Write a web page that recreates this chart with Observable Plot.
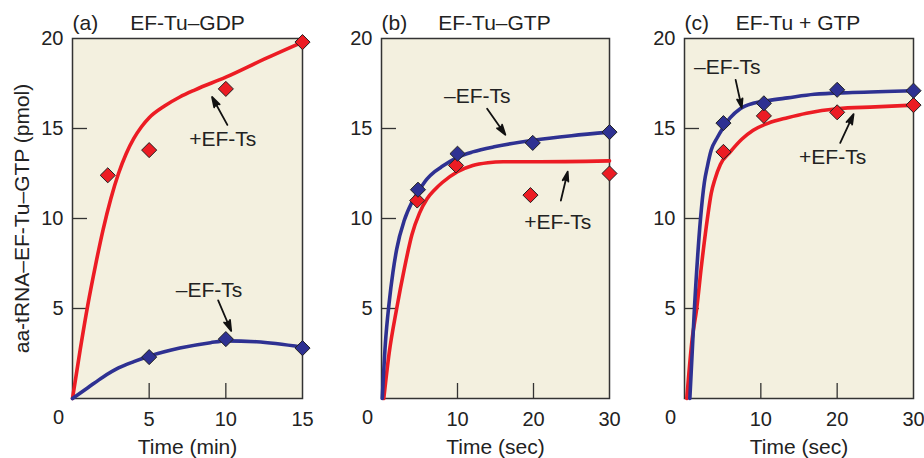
<!DOCTYPE html>
<html>
<head>
<meta charset="utf-8">
<script src="https://cdn.jsdelivr.net/npm/d3@7"></script>
<script src="https://cdn.jsdelivr.net/npm/@observablehq/plot@0.6"></script>
<style>
  html, body { margin: 0; padding: 0; background: #ffffff; }
  #root { position: relative; width: 924px; height: 458px; overflow: hidden; }
  #root svg { position: absolute; top: 0; overflow: visible; }
</style>
</head>
<body>
<div id="root"></div>
<script>
// ---------- data ----------
const yLabel = "aa-tRNA\u2013EF-Tu\u2013GTP (pmol)";
const yTickLabels = [5, 10, 15, 20];
const yTickMarks = [5, 10, 15];

// Panel (a): EF-Tu–GDP, time in min
const titleA = ["(a)", "EF-Tu\u2013GDP"];
const xLabelA = "Time (min)";
const xTicksA = [5, 10, 15];
const curveA_plus = [[0,0],[0.5,2.7],[1,5.2],[1.5,7.4],[2,9.4],[2.5,11.1],[3,12.5],[3.5,13.6],[4,14.45],[4.5,15.1],[5,15.6],[6,16.25],[7,16.75],[8,17.15],[10,17.85],[12.5,18.85],[15,19.8]];
const curveA_minus = [[0,0],[1,0.6],[2,1.2],[3,1.7],[4,2.05],[5,2.35],[7,2.8],[9,3.1],[10,3.2],[12,3.15],[15,2.85]];
const pointsA_plus = [[2.3,12.4],[5,13.8],[10,17.2],[15,19.8]];
const pointsA_minus = [[5,2.3],[10,3.3],[15,2.8]];
const notesA = [[9.8,14.4,"+EF-Ts"],[8.9,6.0,"\u2013EF-Ts"]];
const arrowsA = [[10.1,15.2,9.1,16.75],[9.5,5.45,10.35,3.75]];

// Panel (b): EF-Tu–GTP, time in sec
const titleB = ["(b)", "EF-Tu\u2013GTP"];
const xLabelB = "Time (sec)";
const xTicksB = [10, 20, 30];
const curveB_minus = [[0.1,0],[0.5,3],[1,5.3],[1.5,7],[2,8.3],[3,9.9],[4,10.9],[5,11.6],[6,12.2],[7,12.6],[8,12.9],[10,13.4],[12,13.7],[15,14.0],[20,14.35],[25,14.6],[30,14.8]];
const curveB_plus = [[0.3,0],[1,2.5],[2,5],[3,7.2],[4,9.1],[5,10.3],[6,11.1],[7,11.6],[8,12.0],[10,12.6],[12,12.95],[14,13.1],[16,13.15],[20,13.15],[30,13.2]];
const pointsB_minus = [[4.8,11.6],[10,13.6],[19.9,14.2],[30,14.8]];
const pointsB_plus = [[4.7,11.0],[9.8,12.95],[19.6,11.3],[30,12.5]];
const notesB = [[12.6,16.8,"\u2013EF-Ts"],[23.2,9.8,"+EF-Ts"]];
const arrowsB = [[13.9,16.1,16.3,14.65],[23.6,11.0,24.5,12.6]];

// Panel (c): EF-Tu + GTP, time in sec
const titleC = ["(c)", "EF-Tu + GTP"];
const xLabelC = "Time (sec)";
const xTicksC = [10, 20, 30];
const curveC_minus = [[0.7,0],[1.3,5],[2.1,10],[2.6,12],[3,12.9],[3.5,13.8],[4.3,14.5],[5,15.0],[6,15.6],[7.3,16.1],[9,16.4],[11,16.55],[13.5,16.7],[17,16.9],[22,17.0],[30,17.1]];
const curveC_plus = [[0.3,0],[1,3.3],[1.6,5],[2.2,7.3],[3,10],[3.5,11.4],[4,12.2],[4.7,13.0],[6,13.7],[7.5,14.4],[9,14.9],[11,15.3],[13.5,15.6],[16,15.85],[20,16.1],[25,16.2],[30,16.3]];
const pointsC_minus = [[5.1,15.3],[10.4,16.4],[20,17.15],[30,17.1]];
const pointsC_plus = [[5.1,13.7],[10.4,15.7],[20,15.9],[30,16.3]];
const notesC = [[5.6,18.4,"\u2013EF-Ts"],[19.4,13.4,"+EF-Ts"]];
const arrowsC = [[6.7,17.7,7.5,16.15],[20.4,14.2,22.15,15.8]];

// ---------- style ----------
const FONT = "'Liberation Sans', Arial, Helvetica, sans-serif";
const PLUS = "#ec1c24";
const MINUS = "#2e3192";
const BG = "#f3f0df";
const INK = "#222222";
const H = 458, MT = 38, MB = 60;

function panel({left, width, mL, mR, xDomain, xTicks, title, xLabel, curves, points, notes, arrows, withYLabel}) {
  const fw = width - mL - mR, fh = H - MT - MB;
  const marks = [
    Plot.frame({fill: BG, stroke: "#333", strokeWidth: 1.5}),
    Plot.tickY(yTickMarks, {y: d => d, stroke: "#333", strokeWidth: 1.3, insetRight: fw - 15}),
    Plot.tickX(xTicks.filter(d => d < xDomain[1]), {x: d => d, stroke: "#333", strokeWidth: 1.3, insetTop: fh - 15}),
  ];
  for (const c of curves) {
    marks.push(Plot.line(c.data, {x: d => d[0], y: d => d[1], stroke: c.color, strokeWidth: 3.6, curve: "monotone-x"}));
  }
  for (const p of points) {
    marks.push(Plot.dot(p.data, {x: d => d[0], y: d => d[1], symbol: "diamond2", r: 6.8, fill: p.color, stroke: "#222", strokeWidth: 1}));
  }
  marks.push(
    Plot.arrow(arrows, {x1: d => d[0], y1: d => d[1], x2: d => d[2], y2: d => d[3], stroke: "#111", fill: "#111", strokeWidth: 1.8, headLength: 10, headAngle: 34}),
    Plot.text(notes, {x: d => d[0], y: d => d[1], text: d => d[2], fontSize: 21, fill: INK, textAnchor: "middle", lineAnchor: "middle"}),
    Plot.text([title[0]], {frameAnchor: "top-left", dx: 0, dy: -15, fontSize: 21, fill: INK, textAnchor: "start", lineAnchor: "middle"}),
    Plot.text([title[1]], {frameAnchor: "top", dx: title[2] || 0, dy: -15, fontSize: 21, fill: INK, textAnchor: "middle", lineAnchor: "middle"}),
    Plot.text([xLabel], {frameAnchor: "bottom", dy: 49, fontSize: 21, fill: INK, textAnchor: "middle", lineAnchor: "middle"}),
    Plot.text(["0"], {frameAnchor: "bottom-left", dx: -14, dy: 19, fontSize: 20, fill: INK, textAnchor: "middle", lineAnchor: "middle"})
  );
  if (withYLabel) {
    marks.push(Plot.text([yLabel], {frameAnchor: "left", dx: -50, rotate: -90, fontSize: 21, fill: INK, textAnchor: "middle", lineAnchor: "middle"}));
  }
  const chart = Plot.plot({
    width, height: H,
    marginLeft: mL, marginRight: mR, marginTop: MT, marginBottom: MB,
    style: {fontFamily: FONT, fontSize: "20px", color: INK, background: "transparent", overflow: "visible"},
    x: {domain: xDomain, ticks: xTicks, tickSize: 0, tickPadding: 13, label: null},
    y: {domain: [0, 20], ticks: yTickLabels, tickSize: 0, tickPadding: 9, label: null},
    marks
  });
  chart.style.left = left + "px";
  document.getElementById("root").appendChild(chart);
}

panel({
  left: 0, width: 320, mL: 72, mR: 18, xDomain: [0, 15], xTicks: xTicksA,
  title: [titleA[0], titleA[1], 0], xLabel: xLabelA,
  curves: [{data: curveA_plus, color: PLUS}, {data: curveA_minus, color: MINUS}],
  points: [{data: pointsA_plus, color: PLUS}, {data: pointsA_minus, color: MINUS}],
  notes: notesA, arrows: arrowsA, withYLabel: true
});
panel({
  left: 320, width: 300, mL: 61, mR: 11, xDomain: [0, 30], xTicks: xTicksB,
  title: [titleB[0], titleB[1], -1], xLabel: xLabelB,
  curves: [{data: curveB_plus, color: PLUS}, {data: curveB_minus, color: MINUS}],
  points: [{data: pointsB_plus, color: PLUS}, {data: pointsB_minus, color: MINUS}],
  notes: notesB, arrows: arrowsB
});
panel({
  left: 620, width: 304, mL: 64, mR: 11, xDomain: [0, 30], xTicks: xTicksC,
  title: [titleC[0], titleC[1], -1], xLabel: xLabelC,
  curves: [{data: curveC_plus, color: PLUS}, {data: curveC_minus, color: MINUS}],
  points: [{data: pointsC_plus, color: PLUS}, {data: pointsC_minus, color: MINUS}],
  notes: notesC, arrows: arrowsC
});
</script>
</body>
</html>
